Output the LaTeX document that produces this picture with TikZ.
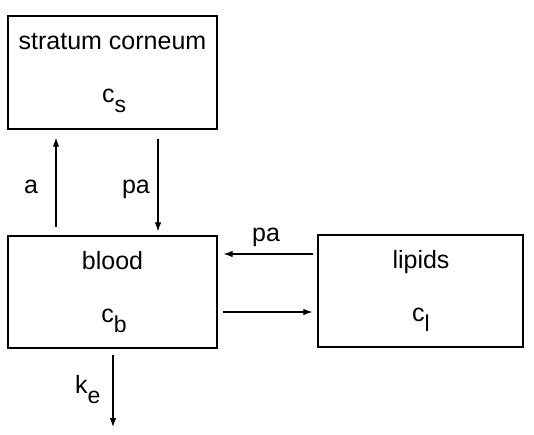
\documentclass[tikz,border=0pt]{standalone}
\usepackage{fontspec}
\setmainfont{Liberation Sans}
\usetikzlibrary{arrows.meta}
\newcommand{\lowsub}[1]{\raisebox{-10pt}{\fontsize{23}{23}\selectfont #1}}
\tikzset{
  compbox/.style={draw,line width=1.2pt,minimum width=209pt,minimum height=113pt,inner sep=0pt},
  flow/.style={-{Latex[length=9pt,width=6.5pt]},line width=1.1pt},
  txt/.style={anchor=base,inner sep=0pt,font=\fontsize{25}{30}\selectfont}
}
\begin{document}
\begin{tikzpicture}[x=1pt,y=-1pt]
\useasboundingbox (0,0) rectangle (534,434);
\node[compbox] (stratum) at (112.5,72.5) {};
\node[compbox,minimum height=112pt] (blood) at (112.5,292) {};
\node[compbox,minimum width=205pt,minimum height=112pt] (lipids) at (420.5,291) {};
\node[txt] (stratumname) at (112.5,49) {stratum corneum};
\node[txt] (stratumconc) at (114,102) {c\lowsub{s}};
\node[txt] (bloodname) at (112.5,269) {blood};
\node[txt] (bloodconc) at (114,322) {c\lowsub{b}};
\node[txt] (lipidsname) at (421,268) {lipids};
\node[txt] (lipidsconc) at (421,321) {c\lowsub{l}};
\coordinate (upline) at (56,0);
\coordinate (downline) at (158,0);
\coordinate (backline) at (0,254);
\coordinate (fwdline) at (0,312);
\coordinate (ketip) at (113,427);
\draw[flow,shorten <=8pt,shorten >=8pt] (blood.north -| upline) -- (stratum.south -| upline);
\draw[flow,shorten <=9pt,shorten >=4pt] (stratum.south -| downline) -- (blood.north -| downline);
\draw[flow,shorten <=4pt,shorten >=6pt] (lipids.west |- backline) -- (blood.east |- backline);
\draw[flow,shorten <=5pt,shorten >=5pt] (blood.east |- fwdline) -- (lipids.west |- fwdline);
\draw[flow,shorten <=6pt] (blood.south -| ketip) -- (ketip);
\node[txt] (uprate) at (31,193) {a};
\node[txt] (downrate) at (136,193) {pa};
\node[txt] (backrate) at (266,241) {pa};
\node[txt,anchor=base west] (elimrate) at (75,393) {k\lowsub{e}};
\end{tikzpicture}
\end{document}
